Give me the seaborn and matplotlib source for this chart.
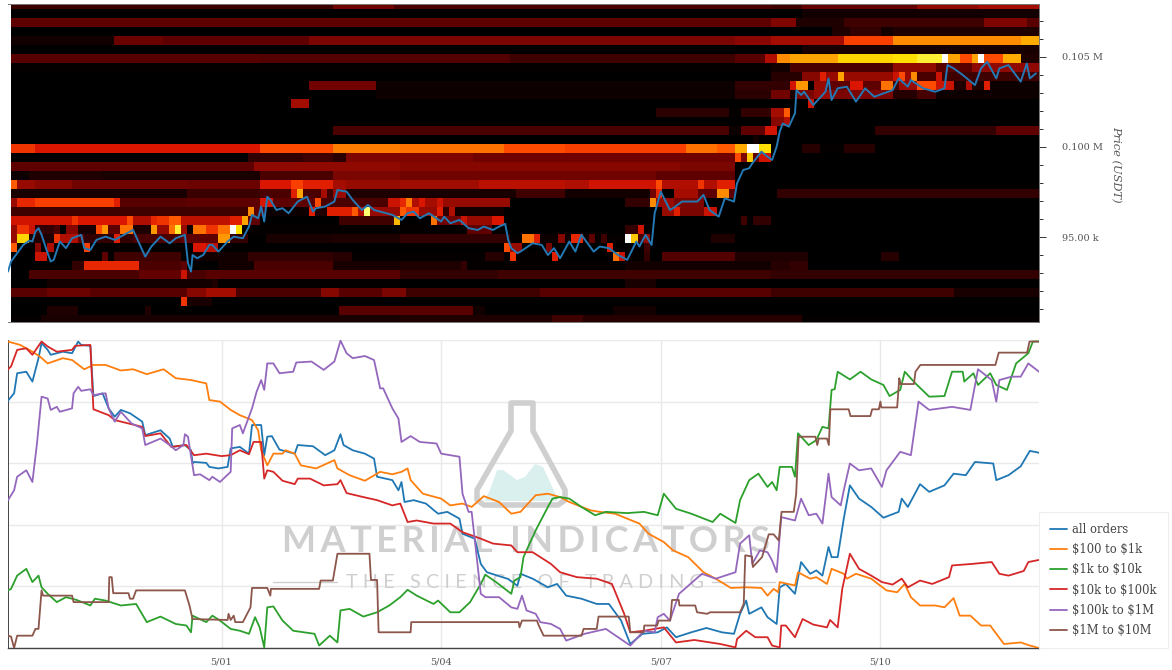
from __future__ import annotations

import matplotlib.pyplot as plt
import numpy as np
import pandas as pd
import seaborn as sns
from matplotlib.colors import LinearSegmentedColormap
from matplotlib.patches import Polygon
from matplotlib.ticker import FixedLocator


WIDTH, HEIGHT = 1172, 670
START = pd.Timestamp("2025-04-28 03:00")
END_HOURS = 337
TICK_DATES = ["2025-05-01", "2025-05-04", "2025-05-07", "2025-05-10"]
TICK_LABELS = ["5/01", "5/04", "5/07", "5/10"]
PRICE_TICKS = [95000, 100000, 105000]
PRICE_LABELS = ["95.00 k", "0.100 M", "0.105 M"]
PRICE_TOP, PRICE_BOTTOM = 107944, 90278
ROW_TOP, ROW_STEP = 108167, 500
N_BINS = 169

# order book heat: one list per 500 USD price row, top row first.
# each pair is (bin where the run ends, level 0-100), a bin is 2 hours
HEAT_ROWS = [
    [(53, 9), (63, 18), (125, 12), (130, 10), (149, 16), (159, 24), (169, 28)],
    [(130, 0), (169, 3)],
    [(125, 15), (129, 21), (137, 5), (160, 10), (167, 21), (169, 14)],
    [(135, 0), (138, 5), (143, 8), (145, 3), (169, 5)],
    [(17, 3), (25, 17), (49, 15), (119, 20), (125, 23), (137, 28), (145, 48), (166, 58), (169, 63)],
    [(130, 0), (169, 4)],
    [(41, 14), (82, 13), (119, 10), (124, 14), (126, 30), (128, 58), (136, 62), (145, 70), (149, 72), (153, 78),
     (154, 100), (156, 62), (158, 50), (159, 62), (160, 100), (163, 50), (166, 63), (169, 5)],
    [(125, 1), (128, 3), (145, 12), (152, 24), (158, 14), (169, 24)],
    [(125, 0), (130, 6), (133, 22), (134, 40), (136, 25), (137, 62), (145, 25), (146, 35), (147, 50), (148, 25),
     (149, 58), (152, 12), (153, 35), (169, 10)],
    [(49, 0), (60, 18), (119, 2), (128, 8), (129, 36), (131, 60), (132, 0), (134, 25), (138, 15), (140, 38),
     (143, 15), (145, 55), (146, 10), (149, 25), (152, 50), (155, 35), (157, 5), (158, 30), (160, 5), (161, 40),
     (169, 2)],
    [(60, 0), (119, 2), (125, 7), (128, 18), (129, 5), (132, 20), (135, 25), (145, 20), (149, 6), (152, 11), (169, 2)],
    [(46, 0), (49, 28), (131, 0), (132, 36), (169, 0)],
    [(106, 0), (118, 7), (120, 1), (125, 8), (127, 28), (128, 52), (169, 0)],
    [(125, 0), (127, 22), (128, 30), (169, 0)],
    [(53, 0), (118, 12), (120, 2), (124, 15), (126, 36), (142, 0), (162, 8), (169, 15)],
    [(122, 0), (123, 3), (169, 0)],
    [(4, 45), (41, 38), (53, 50), (64, 56), (81, 55), (91, 50), (111, 48), (116, 55), (119, 52), (121, 63),
     (123, 100), (125, 72), (130, 0), (133, 6), (137, 1), (142, 6), (169, 0)],
    [(39, 0), (48, 8), (53, 10), (55, 7), (76, 21), (119, 18), (120, 50), (121, 20), (122, 68), (123, 15), (125, 36),
     (169, 0)],
    [(40, 15), (64, 24), (110, 22), (119, 20), (169, 0)],
    [(3, 2), (15, 5), (41, 4), (53, 12), (64, 20), (106, 18), (119, 15), (169, 0)],
    [(1, 52), (4, 25), (10, 22), (29, 18), (41, 17), (46, 38), (48, 48), (53, 40), (55, 28), (64, 25), (77, 27),
     (91, 32), (95, 30), (106, 36), (107, 50), (113, 30), (114, 45), (116, 30), (119, 40), (169, 0)],
    [(29, 4), (41, 9), (46, 12), (47, 40), (48, 62), (51, 12), (52, 28), (53, 10), (55, 25), (64, 5), (83, 4),
     (91, 10), (105, 3), (106, 18), (107, 42), (109, 0), (113, 28), (116, 15), (118, 58), (119, 15), (126, 0),
     (169, 8)],
    [(1, 25), (4, 42), (17, 48), (18, 40), (29, 14), (41, 15), (43, 38), (50, 15), (51, 50), (62, 12), (64, 35),
     (65, 42), (66, 56), (67, 30), (68, 38), (70, 28), (71, 35), (82, 25), (101, 0), (105, 8), (106, 58), (109, 25),
     (114, 20), (169, 0)],
    [(39, 10), (40, 58), (42, 15), (49, 2), (50, 40), (52, 5), (56, 40), (57, 52), (58, 30), (59, 85), (64, 25),
     (65, 52), (67, 45), (70, 25), (71, 40), (72, 8), (73, 30), (81, 3), (107, 0), (109, 25), (110, 40), (114, 20),
     (116, 35), (169, 0)],
    [(10, 36), (11, 45), (19, 38), (20, 50), (23, 30), (24, 42), (26, 45), (28, 52), (36, 33), (38, 40), (39, 62),
     (41, 15), (54, 0), (63, 10), (64, 65), (69, 0), (70, 55), (74, 18), (75, 35), (79, 25), (81, 38), (120, 0),
     (121, 10), (122, 0), (125, 8), (169, 0)],
    [(1, 25), (3, 45), (4, 35), (7, 8), (8, 12), (9, 0), (11, 22), (14, 4), (15, 50), (16, 60), (18, 15), (20, 55),
     (23, 5), (24, 60), (26, 25), (27, 55), (28, 78), (29, 25), (30, 2), (32, 55), (34, 45), (36, 55), (37, 100),
     (38, 72), (75, 1), (79, 15), (101, 0), (103, 8), (104, 36), (169, 0)],
    [(1, 25), (3, 70), (7, 5), (8, 45), (11, 30), (12, 15), (17, 8), (18, 40), (20, 8), (28, 12), (34, 15), (36, 60),
     (39, 8), (42, 0), (53, 4), (64, 5), (82, 8), (84, 1), (86, 55), (87, 40), (90, 2), (91, 22), (92, 2), (94, 42),
     (95, 2), (96, 15), (97, 1), (98, 10), (101, 1), (102, 100), (103, 68), (104, 12), (105, 25), (115, 0), (119, 5),
     (169, 0)],
    [(1, 52), (4, 0), (5, 22), (6, 0), (7, 30), (12, 1), (13, 48), (30, 1), (32, 38), (34, 32), (81, 0), (82, 50),
     (84, 25), (88, 0), (89, 20), (98, 0), (99, 40), (104, 0), (105, 10), (169, 0)],
    [(4, 0), (6, 35), (15, 1), (16, 15), (17, 1), (28, 10), (30, 1), (39, 3), (53, 8), (56, 6), (78, 1), (81, 6),
     (82, 1), (83, 45), (89, 1), (90, 40), (99, 0), (100, 55), (101, 35), (104, 1), (105, 8), (107, 0), (119, 13),
     (131, 5), (143, 0), (146, 6), (169, 0)],
    [(10, 0), (12, 8), (21, 42), (28, 12), (29, 15), (34, 0), (40, 3), (53, 12), (64, 4), (74, 5), (75, 8), (101, 1),
     (125, 3), (128, 6), (131, 8), (169, 0)],
    [(3, 0), (21, 12), (28, 16), (29, 35), (32, 12), (64, 14), (80, 8), (125, 10), (169, 8)],
    [(6, 0), (33, 3), (34, 5), (64, 1), (101, 0), (106, 4), (169, 0)],
    [(6, 14), (13, 17), (29, 14), (32, 22), (37, 28), (51, 12), (54, 22), (61, 14), (65, 20), (87, 10), (125, 14),
     (155, 10), (169, 4)],
    [(28, 0), (29, 45), (33, 4), (169, 0)],
    [(6, 0), (11, 5), (22, 0), (23, 5), (54, 0), (76, 14), (78, 3), (99, 0), (106, 3), (169, 0)],
    [(5, 1), (64, 4), (89, 5), (94, 10), (130, 6), (169, 1)],
]

# (hours since start, USDT)
PRICE = [
    (-1, 93080), (0, 93640), (2, 94100), (4, 94560), (6, 94800), (7, 94750), (8, 95300), (9, 95490), (10, 95120),
    (12, 94100), (13, 93640), (14, 93730), (16, 94750), (18, 94380), (20, 94930), (23, 95120), (24, 94380),
    (26, 94280), (28, 94840), (31, 95020), (34, 94840), (37, 95120), (40, 95390), (42, 94650), (44, 93910),
    (46, 94470), (49, 95020), (52, 94650), (54, 94930), (57, 95120), (58, 93540), (59, 93080), (59.5, 94000),
    (61, 93820), (63, 94000), (65, 94560), (66, 94560), (68, 94190), (71, 94750), (73, 95020), (76, 94930),
    (78, 95580), (79, 96230), (81, 96040), (82, 96690), (83, 95860), (84, 97240), (85, 97060), (87, 96500),
    (89, 96600), (91, 96320), (94, 96970), (97, 97240), (99, 96410), (100, 96600), (103, 96690), (106, 96970),
    (107, 97610), (110, 97520), (112, 97060), (115, 96500), (117, 96780), (119, 96500), (123, 96320), (125, 96230),
    (128, 95950), (130, 96320), (132, 96410), (134, 96040), (137, 96320), (141, 95860), (142, 96130), (144, 95760),
    (147, 95950), (150, 95490), (153, 95390), (155, 95580), (158, 95390), (160, 95580), (162, 95730), (163, 94840),
    (164, 94380), (166, 94100), (167, 94190), (171, 94650), (174, 94560), (176, 94000), (178, 94380), (180, 93820),
    (183, 94750), (185, 94190), (187, 95120), (191, 94190), (193, 94470), (196, 94380), (199, 94000), (202, 93730),
    (205, 94750), (206, 94470), (208, 95120), (210, 94560), (211, 96320), (213, 97520), (216, 96500), (217, 96600),
    (220, 96970), (225, 96970), (227, 97340), (229, 96500), (232, 96130), (234, 97150), (237, 96970), (238, 97980),
    (240, 98720), (242, 98820), (243, 99090), (246, 99740), (248, 99460), (249.5, 99280), (251, 100020),
    (252, 100850), (253, 101310), (255, 101130), (257, 101870), (257.5, 103160), (259, 102890), (260, 103070),
    (263, 102330), (267, 103070), (268, 103810), (269, 102610), (271, 103260), (274, 103350), (277, 102520),
    (280, 103260), (283, 102790), (289, 103160), (291, 103810), (294, 103350), (295, 103720), (299, 103260),
    (303, 103070), (306, 103260), (307, 104550), (309, 104370), (312, 104000), (316, 103440), (318, 104370),
    (320, 104740), (323, 103810), (324, 104370), (327, 104550), (331, 103630), (333, 104640), (334, 103810),
    (336, 104090),
]

ALL_ORDERS = [
    (-1, 80.3), (1, 82.7), (2, 89.2), (5, 89.7), (7, 86.5), (9, 94.1), (10, 99), (12, 96.8), (13, 95.2), (17, 96.2),
    (20, 95.7), (22, 99.5), (23, 98.4), (26, 98.1), (27, 81.8), (30, 82.7), (32, 77.8), (34, 75.1), (36, 77.3),
    (39, 76.2), (43, 73.5), (44, 69.1), (49, 70.7), (52, 68), (53, 65.3), (57, 65.9), (59, 64.2), (59.5, 59.9),
    (60, 60.4), (64, 60.1), (65, 58.8), (68, 58.3), (71, 58.8), (72, 64.8), (75, 65.3), (78, 63.1), (79, 72.4),
    (82, 72.4), (83, 62.6), (84, 68.6), (85.5, 68.8), (88, 64.4), (93, 63.1), (94, 65.9), (99, 65.5), (103, 62.6),
    (106, 64.2), (108, 69.4), (109, 65.9), (112, 64.2), (116, 63.1), (119, 61.5), (120, 55.6), (125, 54.5),
    (127, 51.2), (128, 53.9), (129, 47.4), (132, 48), (136, 46.9), (140, 43.6), (143, 44.2), (147, 42), (148, 37.1),
    (152, 35.5), (154, 27.3), (156, 24.6), (163, 22.4), (166, 20.2), (167, 24.1), (171, 22.5), (176, 19.7),
    (179, 20.8), (182, 17), (187, 16), (192, 14.3), (196, 14.3), (200, 8.9), (203, 1.3), (207, 4.6), (212, 5.1),
    (215, 6.7), (218, 3.5), (223, 5.1), (228, 6.5), (233, 5.1), (237, 4.6), (239, 11.1), (241, 15.4), (242, 11.1),
    (246, 13.2), (248, 10), (249.5, 8.9), (251, 7.8), (252, 19.7), (254, 20.8), (257, 17.6), (259, 27.9),
    (262, 24.1), (264, 25.2), (266, 23.5), (268, 32.8), (269, 29.5), (271, 29.5), (273, 42), (275, 52.8),
    (278, 48.5), (282, 45.8), (286, 42.3), (291, 44.2), (292, 48.5), (294, 45.8), (298, 53.2), (301, 50.7),
    (306, 52.8), (309, 56.6), (313, 56.1), (316, 60.4), (322, 59.9), (323, 54.5), (327, 56.1), (331, 59), (334, 64),
    (337, 63.4),
]
USD_100_1K = [
    (-1, 99.5), (3, 98.4), (7, 96.2), (9.5, 94.6), (12, 92.4), (17, 94.1), (20, 93.5), (24, 90.5), (27, 91.9),
    (31, 91.9), (36, 90.1), (40, 90.5), (44.5, 88.9), (50, 90.5), (54, 87.6), (59, 87), (64, 85.9), (65, 80.5),
    (68.5, 80), (72, 77.3), (75, 75.6), (79, 74), (81, 70.7), (82, 64.2), (84, 59.3), (86, 63.1), (89, 63.1),
    (90, 64.2), (93, 63.1), (95, 59.3), (100, 58.3), (106, 61), (107, 58.3), (111, 56.1), (116, 54.3), (121, 57.2),
    (125, 56.4), (128, 57.2), (130, 58.3), (131, 54.5), (135, 50.1), (141, 48.5), (144, 46.3), (148, 46.9),
    (151, 45.8), (155, 49.3), (160, 47.4), (164, 43.6), (167, 44.2), (172, 49.6), (176, 50.1), (180, 49), (183, 47.4),
    (190, 44.7), (193, 44.2), (198, 43.6), (202, 42), (206, 40.4), (209, 37.1), (214, 34.4), (217, 31.7), (222, 29.5),
    (227, 24.6), (231, 22.5), (236, 19.5), (241, 19.7), (246, 19.5), (248, 17), (250, 19.2), (251.5, 18.1),
    (252, 21.4), (257, 20.3), (258, 24.6), (262, 22.5), (264, 23), (267.5, 20.8), (269, 25.7), (273, 24.1),
    (274, 22.5), (277, 24.1), (282, 22.5), (287, 18.7), (290.5, 18.1), (293, 20.8), (295, 16.5), (298, 13.8),
    (303, 13.8), (306, 13.2), (309, 16.2), (311, 10.5), (314.5, 10.5), (318, 7.3), (321, 7.3), (325.5, 1.3),
    (331, 1.8), (334, 0.8), (337, 0),
]
USD_1K_10K = [
    (-1, 18.7), (0, 19.2), (2, 23.5), (5, 25.7), (7, 21.4), (9, 23.5), (10, 19.7), (12, 17.6), (15, 14.9), (18, 16.5),
    (21.5, 15.6), (26, 13.8), (27.5, 16), (31, 15.4), (36, 13.8), (41, 14.3), (44.5, 8.4), (49, 10.2), (54, 7.8),
    (57.5, 7.3), (59, 5.1), (59.5, 10.5), (64, 8.4), (66, 10.5), (68.5, 8.9), (72, 6.2), (75, 5.6), (78, 4.6), (80, 10),
    (81.5, 6.7), (83, 0.2), (84, 13.2), (86, 13.5), (89, 8.9), (92.5, 5.6), (99.5, 4.6), (101, 0.8), (104.5, 4),
    (107, 1.8), (108, 12.2), (111, 12.7), (115.5, 10.2), (120, 11.6), (124, 13.8), (127.6, 16.5), (130, 18.9),
    (133, 17), (138.5, 14.3), (140, 15.4), (144, 11.6), (147, 11.6), (150.5, 14.9), (154, 20.8), (155.5, 23.8),
    (159, 21.4), (164, 17.6), (165, 21.9), (167, 23), (168, 29.5), (172, 38.2), (176, 45.8), (177.5, 48.5), (180, 49),
    (183, 48.5), (187, 45.8), (191.5, 43.1), (195, 44.2), (202, 43.8), (207.5, 44.2), (212, 43.1), (214, 50.1),
    (218, 45.2), (223, 43.6), (230, 40.9), (232.5, 43.6), (237.5, 40.6), (239, 48), (242, 54.5), (245, 56.6),
    (248, 52.3), (249.5, 53.9), (251, 51.2), (252, 58.8), (256, 58.8), (257, 55.6), (258, 69.7), (261.5, 65.9),
    (264, 67.5), (266, 71.8), (268, 71.3), (269, 83.8), (270, 84), (271, 89.7), (275, 87.2), (278.5, 89.7), (282, 87.2),
    (286, 85.4), (288, 81.8), (291.5, 83.8), (293, 89.7), (296.5, 85.9), (301, 81.6), (306, 81.8), (308.5, 89.7),
    (312, 89.7), (312.5, 86.5), (315.5, 89.2), (317, 85.4), (321, 89.2), (323, 85.4), (326.5, 83.8), (329.5, 92.4),
    (333.5, 95.7), (335, 99.5), (337, 99.5),
]
USD_10K_100K = [
    (-1, 90.5), (0, 91.4), (2, 96.8), (5, 97.3), (7, 95.2), (10, 99.5), (12, 97.9), (15, 96.2), (20, 96.8), (21, 98.1),
    (26, 98.4), (27, 77.5), (32, 75.6), (34, 74), (38.5, 72.9), (43, 71.8), (44, 68.8), (49, 69.7), (52.5, 65.3),
    (57.5, 65.9), (60, 62.6), (64, 63.1), (69, 62.3), (72, 62.6), (75, 64.2), (78, 62.9), (79.5, 66.9), (82, 66.9),
    (83, 55), (84, 57.7), (86, 57.2), (89, 54.3), (93, 53.2), (94, 55), (98, 55), (102.5, 52.8), (107, 53.2),
    (108, 54.5), (110, 50.3), (115.5, 49), (120, 48), (125, 46.3), (127.6, 46.9), (130, 40.9), (133, 41.4),
    (138.5, 40.4), (144, 40.4), (148, 37.6), (154, 35.5), (158, 33.9), (164, 33.3), (166, 31.1), (171, 31.1),
    (177, 27.3), (180, 24.6), (185.5, 23), (192, 22.5), (197, 20.8), (201, 11.1), (203, 5.1), (207.5, 5.6), (214, 6.7),
    (218, 1.8), (224, 2.6), (232.5, 1.3), (237.5, 0.2), (238, 2.9), (241, 5.6), (244, 3.5), (248, 3.5), (249.5, 0.8),
    (252, 0.2), (252.5, 7.3), (254, 7.3), (257, 3.5), (259.5, 9.4), (263, 7.6), (267.5, 6.7), (268.5, 9.1), (271, 6.7),
    (272.5, 19.2), (275, 30.6), (278, 25.7), (282, 23.5), (285.5, 21.4), (289, 20.6), (292, 22.5), (294, 19.7),
    (298, 21.9), (302, 20.8), (307.5, 23), (308.5, 26.8), (315, 27.3), (321.5, 27.9), (324, 24.1), (327, 23.5),
    (332, 25), (333.5, 27.9), (337, 28.6),
]
USD_100K_1M = [
    (-1, 48), (1, 51.2), (2, 55.6), (5, 57.7), (7, 53.9), (8.5, 66.4), (10, 81.6), (12, 81), (13, 77.3), (15, 78.3),
    (16, 76.7), (20, 77.8), (20.5, 82.7), (22, 84.8), (23, 83.5), (26, 84), (27, 82.1), (31, 82.7), (32, 77.8),
    (34, 73.5), (36, 76.7), (39.5, 72.9), (43, 71.3), (44, 65.9), (49, 68), (52, 65.9), (54, 64.2), (56.5, 65.9),
    (57, 69.4), (58, 68.6), (60, 56.1), (62, 56.4), (65, 54.5), (66, 55.6), (68.5, 53.9), (72, 57.2), (72.5, 71.3),
    (75, 72.4), (76, 69.7), (79, 77.8), (80.5, 83.2), (82, 87), (83, 83.8), (84, 92.4), (86, 92.4), (88, 89.2),
    (92.5, 89.7), (93.5, 92.7), (98.5, 93), (102.5, 90.3), (106, 93), (108, 99.8), (110, 95.7), (112, 94.1), (116, 94.8),
    (119, 93.5), (121, 84.3), (122, 84.3), (125, 77.8), (127, 74.5), (128, 66.9), (131, 68.8), (134, 66.9),
    (139.5, 66.4), (141, 63.1), (147, 62.1), (148, 50.1), (150, 44.2), (151, 44.2), (154, 17.6), (155.5, 16.5),
    (160, 16.5), (164, 13.2), (166, 12.7), (167.5, 17), (169, 12.2), (172, 11.1), (173.5, 8.4), (177, 7.8), (180, 6.2),
    (182, 2.4), (188, 4.6), (195, 6.2), (203, 0.8), (207.5, 5.6), (211, 5.1), (212, 10), (214, 11.1), (216, 8.9),
    (219, 17.6), (226.5, 24.1), (231, 22.5), (237.5, 24.6), (239, 33.9), (242, 36.6), (243, 27.3), (245.5, 31.7),
    (248, 31.1), (249.5, 28.4), (251, 24.6), (252.5, 42.5), (257, 41.4), (259, 48.5), (261.5, 43.1), (264, 43.6),
    (266, 40.4), (268, 56.6), (269, 49), (272, 46.3), (273, 51.2), (275, 59.9), (278, 57.7), (282, 58.3), (285.5, 52.3),
    (287, 57.7), (291.5, 63.7), (295, 62.6), (297.5, 80), (301, 77.3), (308.5, 78.3), (314.5, 77.3), (317, 90.5),
    (321.5, 87), (323, 80), (324, 87), (328, 88.1), (331, 88.1), (333.5, 92.4), (337, 89.7),
]
USD_1M_10M = [
    (-1, 4), (0, 3.7), (1, 0), (2, 4), (7, 4), (8, 6.2), (9, 6.2), (10, 18.7), (10.5, 17), (20, 17), (20.5, 14.9),
    (32, 14.9), (32.2, 23), (33, 23), (33.5, 17.8), (38.5, 17.8), (39, 16), (40, 16), (41, 18.7), (57, 18.7),
    (58.5, 13.8), (59.5, 9.4), (71, 9.1), (71.3, 11.1), (72, 9.1), (73, 10.5), (73.5, 8.4), (76, 8.4), (78.5, 13.2),
    (79, 19.5), (84, 19.5), (85, 17), (85.2, 19.2), (101, 19.2), (101.5, 21.9), (105.5, 21.9), (107, 30.6),
    (117.5, 30.6), (118, 22.1), (120, 22.1), (120.5, 5.1), (131, 5.1), (131.2, 8.4), (166.4, 8.4), (166.7, 6.7),
    (167.5, 8.9), (172.4, 8.9), (173, 7.3), (174.6, 4), (187, 4), (187.7, 6.2), (192, 6.2), (192.6, 10.2), (202.5, 10.2),
    (203, 5.1), (207.4, 5.1), (207.6, 7.3), (211.8, 7.3), (212.3, 8.9), (216.1, 8.9), (216.7, 15.6), (218.9, 15.6),
    (219.1, 13.8), (224.3, 13.8), (224.9, 11.6), (228.2, 11.1), (229.2, 11.6), (239, 11.6), (240.2, 14.3), (240.7, 30.1),
    (242.9, 29.7), (243.2, 26.3), (246.2, 29.5), (248.4, 36.9), (250, 36.9), (251.7, 34.9), (252.6, 44.2), (256.6, 44.2),
    (257.4, 50.1), (258.2, 68.6), (263.7, 68.6), (264.3, 65.9), (264.8, 68), (267.5, 68), (268.1, 65.9), (268.6, 77.5),
    (274.6, 77.5), (275.2, 75.3), (281.7, 75.3), (282.3, 77.5), (284.5, 77.5), (285, 80), (285.3, 78.1), (290.5, 78.1),
    (291.2, 87.6), (291.6, 85.7), (296, 85.7), (296.5, 89.7), (298.1, 91.9), (322.7, 91.9), (323.8, 95.9), (333.1, 95.9),
    (333.9, 99.5), (337, 99.5),
]
SERIES = {
    "all orders": ALL_ORDERS,
    "\\$100 to \\$1k": USD_100_1K,
    "\\$1k to \\$10k": USD_1K_10K,
    "\\$10k to \\$100k": USD_10K_100K,
    "\\$100k to \\$1M": USD_100K_1M,
    "\\$1M to \\$10M": USD_1M_10M,
}

TEXT_COLOR = "#555555"
GRID_COLOR = "#e9e9e9"
MARK_GREY = "#cfcfcf"
MARK_TEAL = "#d9f0ef"
FLASK_OUTLINE = [(511, 403), (533, 403), (533, 431), (565, 490), (565, 500), (558, 505), (484, 505), (477, 500), (477, 490), (511, 431)]
FLASK_FILL = [(484, 501), (490, 490), (497, 470), (503, 470), (517, 480), (525, 477), (535, 464), (543, 467), (557, 497), (557, 501)]
HEAT_COLORS = [(0, "#000000"), (0.15, "#600000"), (0.38, "#da1600"), (0.5, "#ff4800"), (0.58, "#ff8c00"), (0.72, "#ffe000"),
               (0.85, "#ffff70"), (1, "#ffffff")]


def to_time(hours: list[float]) -> pd.Series:
    return START + pd.to_timedelta(pd.Series(hours, dtype=float), unit="h")


def px_box(left: float, top: float, right: float, bottom: float) -> list[float]:
    return [left / WIDTH, 1 - bottom / HEIGHT, (right - left) / WIDTH, (bottom - top) / HEIGHT]


def px_xy(x: float, y: float) -> tuple[float, float]:
    return x / WIDTH, 1 - y / HEIGHT


def heat_matrix() -> np.ndarray:
    matrix = np.zeros((len(HEAT_ROWS), N_BINS))
    for i, runs in enumerate(HEAT_ROWS):
        begin = 0
        for end, level in runs:
            matrix[i, begin:end] = level
            begin = end
    return matrix


def draw_heatmap(fig: plt.Figure) -> None:
    ax = fig.add_axes(px_box(11, 4, 1039, 322))
    cmap = LinearSegmentedColormap.from_list("book", HEAT_COLORS)
    sns.heatmap(heat_matrix(), ax=ax, cmap=cmap, vmin=0, vmax=100, cbar=False, xticklabels=False, yticklabels=False)
    ax.set_ylim((ROW_TOP - PRICE_BOTTOM) / ROW_STEP, (ROW_TOP - PRICE_TOP) / ROW_STEP)
    ax.set_xlim(0, N_BINS)


def draw_price(fig: plt.Figure) -> None:
    ax = fig.add_axes(px_box(8, 4, 1039, 322), facecolor="none")
    hours, values = zip(*PRICE)
    sns.lineplot(x=to_time(list(hours)), y=list(values), color="#2479b5", lw=1.4, sort=False, estimator=None, ax=ax)
    ax.set_xlim(to_time([-1])[0], to_time([END_HOURS])[0])
    ax.set_ylim(PRICE_BOTTOM, PRICE_TOP)
    ax.set_xticks([])
    ax.set_xlabel("")
    ax.yaxis.tick_right()
    ax.set_yticks(PRICE_TICKS, PRICE_LABELS)
    ax.yaxis.set_minor_locator(FixedLocator(np.arange(91000, 108000, 1000)))
    ax.tick_params(axis="y", which="major", length=5, width=0.7, color="#333333", pad=11.5, labelsize=7, labelcolor=TEXT_COLOR)
    ax.tick_params(axis="y", which="minor", length=3, width=0.7, color="#333333")
    x, y = px_xy(1116, 164)
    fig.text(x, y, "Price (USDT)", ha="center", va="center", rotation=270, fontsize=8.2, style="italic", color=TEXT_COLOR)
    ax.spines["left"].set_visible(False)
    for side in ["top", "bottom", "right"]:
        ax.spines[side].set_color("#777777")
        ax.spines[side].set_linewidth(0.7)


def draw_watermark(fig: plt.Figure, ax: plt.Axes) -> None:
    fill = Polygon(FLASK_FILL, closed=True, fc=MARK_TEAL, ec="none", zorder=1, clip_on=False)
    outline = Polygon(FLASK_OUTLINE, closed=True, fill=False, ec=MARK_GREY, lw=4, joinstyle="round", zorder=1, clip_on=False)
    for patch in [fill, outline]:
        patch.set_xy([px_xy(x, y) for x, y in patch.get_xy()])
        patch.set_transform(fig.transFigure)
        ax.add_patch(patch)
    x, y = px_xy(525.5, 541.5)
    ax.text(x, y, "\u2009".join("MATERIAL") + "  " + "\u2009".join("INDICATORS"), transform=fig.transFigure,
            ha="center", va="center", family=["Lato", "DejaVu Sans"], weight="bold", fontsize=26, color=MARK_GREY, zorder=1)
    x, y = px_xy(525, 582)
    ax.text(x, y, "T H E   S C I E N C E   O F   T R A D I N G", transform=fig.transFigure, ha="center", va="center",
            family="Lato", fontsize=14.3, color=MARK_GREY, zorder=1)
    for x0, x1 in [(273, 337), (712, 775)]:
        x_a, y_a = px_xy(x0, 582)
        x_b, _ = px_xy(x1, 582)
        ax.plot([x_a, x_b], [y_a, y_a], transform=fig.transFigure, color=MARK_GREY, lw=1, zorder=1, clip_on=False)


def draw_lines(fig: plt.Figure) -> None:
    ax = fig.add_axes(px_box(8, 340, 1039, 648))
    frames = []
    for name, points in SERIES.items():
        hours, values = zip(*points)
        frames.append(pd.DataFrame({"time": to_time(list(hours)), "value": values, "series": name}))
    df = pd.concat(frames, ignore_index=True)
    sns.lineplot(data=df, x="time", y="value", hue="series", hue_order=list(SERIES), palette="tab10", lw=1.3,
                 sort=False, estimator=None, ax=ax, zorder=3)
    ax.set_xlim(to_time([-1])[0], to_time([END_HOURS])[0])
    ax.set_ylim(0, 100)
    ax.set_xlabel("")
    ax.set_ylabel("")
    ax.set_xticks(pd.to_datetime(TICK_DATES), TICK_LABELS)
    ax.set_yticks(np.arange(0, 101, 20), [])
    ax.yaxis.set_minor_locator(FixedLocator(np.arange(0, 101, 4)))
    ax.tick_params(axis="x", length=5, width=0.8, color="#333333", pad=1.5, labelsize=7, labelcolor=TEXT_COLOR)
    ax.tick_params(axis="y", which="major", length=5, width=0.8, color="#333333")
    ax.tick_params(axis="y", which="minor", length=3.5, width=0.7, color="#333333")
    ax.grid(True, color=GRID_COLOR, lw=1)
    ax.set_axisbelow(True)
    ax.spines["top"].set_visible(False)
    ax.spines["right"].set_visible(False)
    ax.spines["left"].set_color("#444444")
    ax.spines["left"].set_linewidth(0.7)
    ax.spines["bottom"].set_color("#444444")
    ax.spines["bottom"].set_linewidth(1.0)

    handles, labels = ax.get_legend_handles_labels()
    legend = ax.legend(handles, labels, loc="lower left", bbox_to_anchor=px_xy(1039, 648), bbox_transform=fig.transFigure,
                       frameon=True, fancybox=False, edgecolor="#eeeeee", framealpha=1, fontsize=8.3, labelcolor="#444444",
                       labelspacing=0.63, handlelength=1.5, handletextpad=0.45, borderpad=0.95, borderaxespad=0)
    legend.get_frame().set_linewidth(0.8)

    draw_watermark(fig, ax)
    x, y = px_xy(525, 678)
    fig.text(x, y, "Date (UTC)", ha="center", va="center", fontsize=8.5, style="italic", color=TEXT_COLOR)


def main() -> None:
    sns.set_theme(style="white")
    plt.rcParams["font.family"] = ["DejaVu Serif"]
    fig = plt.figure(figsize=(WIDTH / 100, HEIGHT / 100), dpi=100)
    draw_heatmap(fig)
    draw_price(fig)
    draw_lines(fig)
    fig.savefig("out.png", dpi=100)
    plt.close(fig)


if __name__ == "__main__":
    main()
